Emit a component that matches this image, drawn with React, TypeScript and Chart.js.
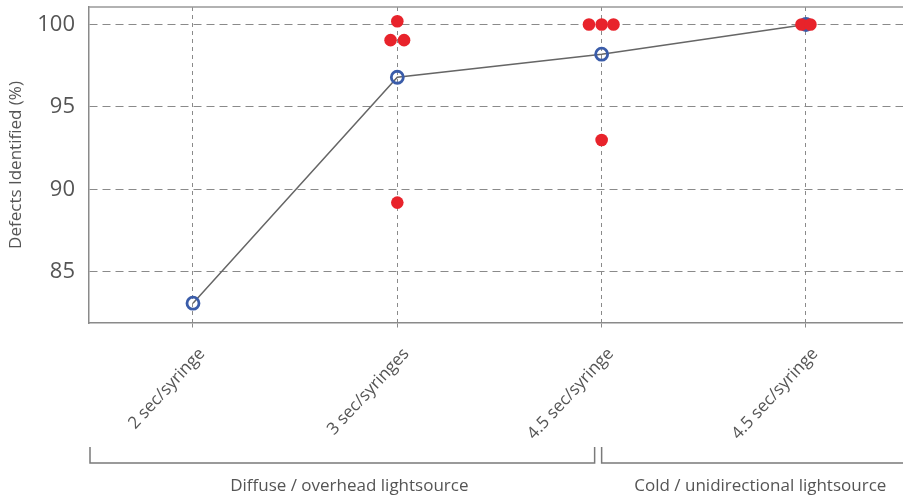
import React, { useEffect, useRef } from "react";
import { Chart, registerables } from "chart.js";

Chart.register(...registerables);

const categories = ["2 sec/syringe", "3 sec/syringes", "4.5 sec/syringe", "4.5 sec/syringe"];
const meanValues = [83.1, 96.8, 98.2, 100];

const individualCategory = [1, 1, 1, 1, 2, 2, 2, 2, 3, 3];
const individualOffset = [0, -0.033, 0.033, 0, -0.062, 0, 0.058, 0, -0.022, 0.022];
const individualValues = [100.2, 99.05, 99.05, 89.2, 100, 100, 100, 93.0, 100, 100];

const yTicks = [85, 90, 95, 100];

const groupLabels = ["Diffuse / overhead lightsource", "Cold / unidirectional lightsource"];
const groupStartCategory = [null, 2];
const groupEndCategory = [2, null];

const FONT = "'Open Sans', sans-serif";
const TEXT = "#555555";
const GRID = "#8a8a8a";

const groupPlugin = {
  id: "groupBrackets",
  afterDraw(chart: any) {
    const { ctx, chartArea } = chart;
    const x = chart.scales.x;
    ctx.save();
    // top border of plot
    ctx.strokeStyle = "#999999";
    ctx.lineWidth = 1.5;
    ctx.beginPath();
    ctx.moveTo(chartArea.left, chartArea.top);
    ctx.lineTo(chartArea.right, chartArea.top);
    ctx.stroke();

    const yTop = chartArea.bottom + 124;
    const yBot = chartArea.bottom + 140;
    ctx.strokeStyle = "#7a7a7a";
    ctx.lineWidth = 1.5;
    ctx.font = `17px ${FONT}`;
    ctx.fillStyle = TEXT;
    ctx.textAlign = "center";
    ctx.textBaseline = "middle";
    groupLabels.forEach((label, i) => {
      const s = groupStartCategory[i];
      const e = groupEndCategory[i];
      const x0 = s === null ? chartArea.left + 1 : x.getPixelForValue(s);
      const x1 = e === null ? chartArea.right + 2 : x.getPixelForValue(e) - 7;
      ctx.beginPath();
      ctx.moveTo(x0, yTop);
      ctx.lineTo(x0, yBot);
      ctx.lineTo(x1, yBot);
      ctx.lineTo(x1, yTop);
      ctx.stroke();
      ctx.fillText(label, (x0 + x1) / 2 + 7, chartArea.bottom + 163);
    });
    ctx.restore();
  },
};

export default function App() {
  const ref = useRef<HTMLCanvasElement | null>(null);

  useEffect(() => {
    if (!ref.current) return;
    const chart = new Chart(ref.current, {
      type: "scatter",
      data: {
        datasets: [
          {
            label: "Individual",
            data: individualValues.map((v, i) => ({ x: individualCategory[i] + individualOffset[i], y: v })),
            backgroundColor: "#e8232b",
            borderColor: "#e8232b",
            borderWidth: 0,
            pointRadius: 6.3,
            order: 0,
          } as any,
          {
            label: "Mean",
            data: meanValues.map((v, i) => ({ x: i, y: v })),
            showLine: true,
            borderColor: "#666666",
            borderWidth: 1.5,
            pointBorderColor: "#3a5ca9",
            pointBackgroundColor: "rgba(0,0,0,0)",
            pointBorderWidth: 2.8,
            pointRadius: 6,
            order: 1,
          } as any,
        ],
      },
      options: {
        animation: false,
        responsive: true,
        maintainAspectRatio: false,
        layout: { autoPadding: false, padding: { top: 7, left: 0, right: 0, bottom: 0 } },
        plugins: { legend: { display: false }, tooltip: { enabled: false } },
        scales: {
          x: {
            type: "linear",
            min: -0.509,
            max: 3.475,
            bounds: "data",
            afterBuildTicks: (s: any) => {
              s.ticks = categories.map((_, i) => ({ value: i }));
            },
            afterFit: (s: any) => {
              s.height = 174;
              s.paddingLeft = 0;
              s.paddingRight = 0;
            },
            ticks: {
              autoSkip: false,
              minRotation: 47,
              maxRotation: 47,
              padding: 16,
              labelOffset: 9,
              color: TEXT,
              font: { family: FONT, size: 17 },
              callback: (_v: any, i: number) => categories[i],
            },
            grid: {
              color: GRID,
              lineWidth: 1,
              tickLength: 5,
              tickColor: GRID,
              tickBorderDash: [4, 4],
            },
            border: { display: true, color: "#8a8a8a", width: 1.5, dash: [4, 4] },
          } as any,
          y: {
            type: "linear",
            min: 81.9,
            max: 101.06,
            bounds: "data",
            afterBuildTicks: (s: any) => {
              s.ticks = yTicks.map((v) => ({ value: v }));
            },
            afterFit: (s: any) => {
              s.width = 89;
              s.paddingTop = 0;
              s.paddingBottom = 0;
            },
            ticks: {
              padding: 14,
              color: TEXT,
              font: { family: FONT, size: 22 },
            },
            grid: { color: GRID, lineWidth: 1, drawTicks: false },
            border: { display: true, color: "#8a8a8a", width: 1.5, dash: [8, 5] },
            title: {
              display: true,
              text: "Defects Identified (%)",
              color: TEXT,
              font: { family: FONT, size: 17 },
              padding: { top: 6, bottom: 0 },
            },
          } as any,
        },
      },
      plugins: [groupPlugin],
    });
    return () => chart.destroy();
  }, []);

  return (
    <div style={{ position: "absolute", left: 0, top: 0, width: 903, height: 497 }}>
      <canvas ref={ref} />
    </div>
  );
}
